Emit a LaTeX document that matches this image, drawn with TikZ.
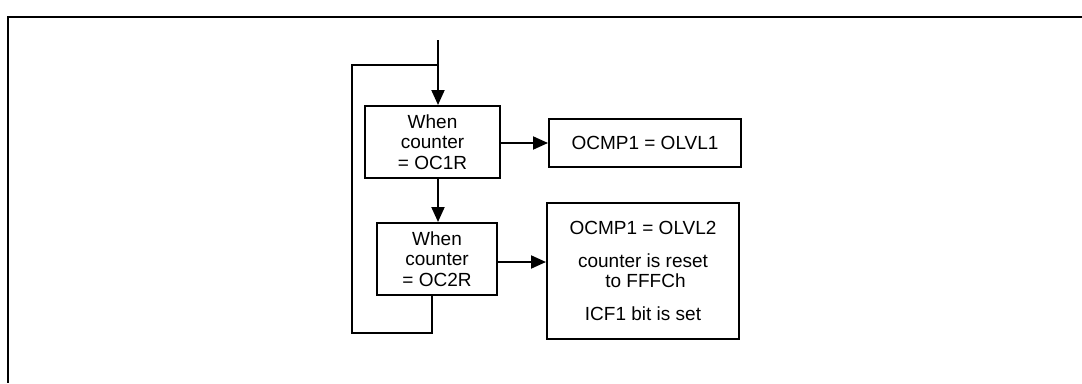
\documentclass[tikz,border=0pt]{standalone}
\usepackage{fontspec}
\setmainfont{Liberation Sans}
\usetikzlibrary{arrows.meta}
\begin{document}
\begin{tikzpicture}[x=1pt,y=-1pt,
  line width=2pt,
  box/.style={draw,rectangle,inner sep=0pt,align=center,
    font=\fontsize{19}{20.5}\selectfont},
  arr/.style={-{Triangle[length=15pt,width=13pt]}}]
\useasboundingbox (0,0) rectangle (1082,383);
\draw[line width=2.5pt] (1082,17) -- (8,17) -- (8,383);
\node[box,minimum width=135pt,minimum height=72pt] (b1) at (432.5,142) {When\\counter\\= OC1R};
\node[box,minimum width=192pt,minimum height=48pt] (o1) at (645,143) {OCMP1 = OLVL1};
\node[box,minimum width=120pt,minimum height=72pt] (b2) at (437,259) {When\\counter\\= OC2R};
\node[box,minimum width=192pt,minimum height=136pt] (o2) at (643,271) {OCMP1 = OLVL2\\[12pt]counter is reset\\\hspace{5pt}to FFFCh\\[12pt]ICF1 bit is set};
\coordinate (top) at (438,40);
\coordinate (join) at (438,65);
\coordinate (lt) at (352,65);
\coordinate (lb) at (352,333);
\coordinate (b2out) at (432,333);
\coordinate (b2r) at (497,262);
\draw[arr] (top) -- (top |- b1.north);
\draw (join) -- (lt) -- (lb) -- (b2out) -- (b2out |- b2.south);
\draw[arr] (b1.east |- o1.west) -- (o1.west);
\draw[arr] (438,0 |- b1.south) -- (438,0 |- b2.north);
\draw[arr] (b2r) -- (o2.west |- b2r);
\end{tikzpicture}
\end{document}
